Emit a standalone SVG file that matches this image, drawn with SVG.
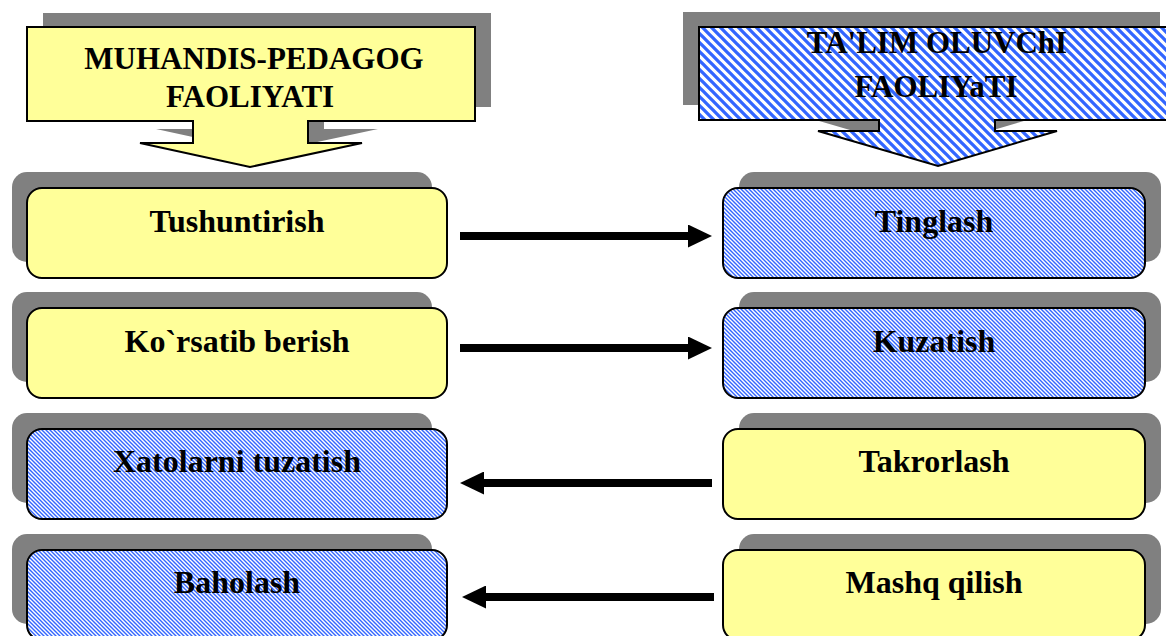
<svg xmlns="http://www.w3.org/2000/svg" width="1166" height="636" viewBox="0 0 1166 636">
  <defs>
    <pattern id="hatchS" patternUnits="userSpaceOnUse" width="4" height="4">
      <rect width="4" height="4" fill="#ffffff"/>
      <path d="M-1,-1 L5,5 M-1,3 L1,5 M3,-1 L5,1" stroke="#3366ff" stroke-width="1.4"/>
    </pattern>
    <pattern id="hatchL" patternUnits="userSpaceOnUse" width="9" height="9">
      <rect width="9" height="9" fill="#ffffff"/>
      <path d="M-2,-2 L11,11 M-2,7 L2,11 M7,-2 L11,2" stroke="#3366ff" stroke-width="3.3"/>
    </pattern>
    <marker id="ah" markerUnits="userSpaceOnUse" markerWidth="24" markerHeight="23" refX="12" refY="11.5" orient="auto">
      <path d="M0,0 L24,11.5 L0,23 Z" fill="#000"/>
    </marker>
  </defs>
  <style>
    .shadow { fill: #808080; }
    .box { stroke: #000; stroke-width: 2; }
    .yellow { fill: #ffff99; }
    .hatch { fill: url(#hatchS); }
    .hatchL { fill: url(#hatchL); }
    .lbl { font-family: "Liberation Serif", "Times New Roman", serif; font-weight: bold; font-size: 32px; fill: #000; text-anchor: middle; }
    .hdr { font-family: "Liberation Serif", "Times New Roman", serif; font-weight: bold; font-size: 31px; fill: #000; text-anchor: middle; }
    .conn { stroke: #000; stroke-width: 8; fill: none; marker-end: url(#ah); }
  </style>
  <rect width="1166" height="636" fill="#ffffff"/>

  <g id="header-left">
    <path class="shadow" transform="translate(16,-14)" d="M27,27 H475 V121 H308 V143 H362 L250,167 L140,143 H193 V121 H27 Z"/>
    <path class="box yellow" d="M27,27 H475 V121 H308 V143 H362 L250,167 L140,143 H193 V121 H27 Z"/>
    <text class="hdr" x="254" y="69">MUHANDIS-PEDAGOG</text>
    <text class="hdr" x="250" y="107">FAOLIYATI</text>
  </g>

  <g id="header-right">
    <path class="shadow" transform="translate(-16,-15)" d="M699,27 H1176 V120 H995 V131 H1057 L938,166 L818,131 H879 V120 H699 Z"/>
    <path class="box hatchL" d="M699,27 H1176 V120 H995 V131 H1057 L938,166 L818,131 H879 V120 H699 Z"/>
    <text class="hdr" x="937" y="53">TA'LIM OLUVChI</text>
    <text class="hdr" x="936" y="97">FAOLIYaTI</text>
  </g>

  <g id="node-tushuntirish">
    <rect class="shadow" x="12" y="172" width="420" height="90" rx="15"/>
    <rect class="box yellow" x="27" y="188" width="420" height="90" rx="15"/>
    <text class="lbl" x="237" y="232">Tushuntirish</text>
  </g>
  <g id="node-korsatib">
    <rect class="shadow" x="12" y="292" width="420" height="90" rx="15"/>
    <rect class="box yellow" x="27" y="308" width="420" height="90" rx="15"/>
    <text class="lbl" x="237" y="352">Ko`rsatib berish</text>
  </g>
  <g id="node-xatolarni">
    <rect class="shadow" x="12" y="413" width="420" height="90" rx="15"/>
    <rect class="box hatch" x="27" y="429" width="420" height="90" rx="15"/>
    <text class="lbl" x="237" y="472">Xatolarni tuzatish</text>
  </g>
  <g id="node-baholash">
    <rect class="shadow" x="12" y="534" width="420" height="90" rx="15"/>
    <rect class="box hatch" x="27" y="550" width="420" height="90" rx="15"/>
    <text class="lbl" x="237" y="593">Baholash</text>
  </g>

  <g id="node-tinglash">
    <rect class="shadow" x="739" y="172" width="422" height="90" rx="15"/>
    <rect class="box hatch" x="723" y="188" width="422" height="90" rx="15"/>
    <text class="lbl" x="934" y="232">Tinglash</text>
  </g>
  <g id="node-kuzatish">
    <rect class="shadow" x="739" y="292" width="422" height="90" rx="15"/>
    <rect class="box hatch" x="723" y="308" width="422" height="90" rx="15"/>
    <text class="lbl" x="934" y="352">Kuzatish</text>
  </g>
  <g id="node-takrorlash">
    <rect class="shadow" x="739" y="413" width="422" height="90" rx="15"/>
    <rect class="box yellow" x="723" y="429" width="422" height="90" rx="15"/>
    <text class="lbl" x="934" y="472">Takrorlash</text>
  </g>
  <g id="node-mashq">
    <rect class="shadow" x="739" y="534" width="422" height="90" rx="15"/>
    <rect class="box yellow" x="723" y="550" width="422" height="90" rx="15"/>
    <text class="lbl" x="934" y="593">Mashq qilish</text>
  </g>

  <g id="connectors">
    <line class="conn" x1="460" y1="236" x2="700" y2="236"/>
    <line class="conn" x1="460" y1="348" x2="700" y2="348"/>
    <line class="conn" x1="712" y1="483" x2="472" y2="483"/>
    <line class="conn" x1="714" y1="597" x2="474" y2="597"/>
  </g>
</svg>
